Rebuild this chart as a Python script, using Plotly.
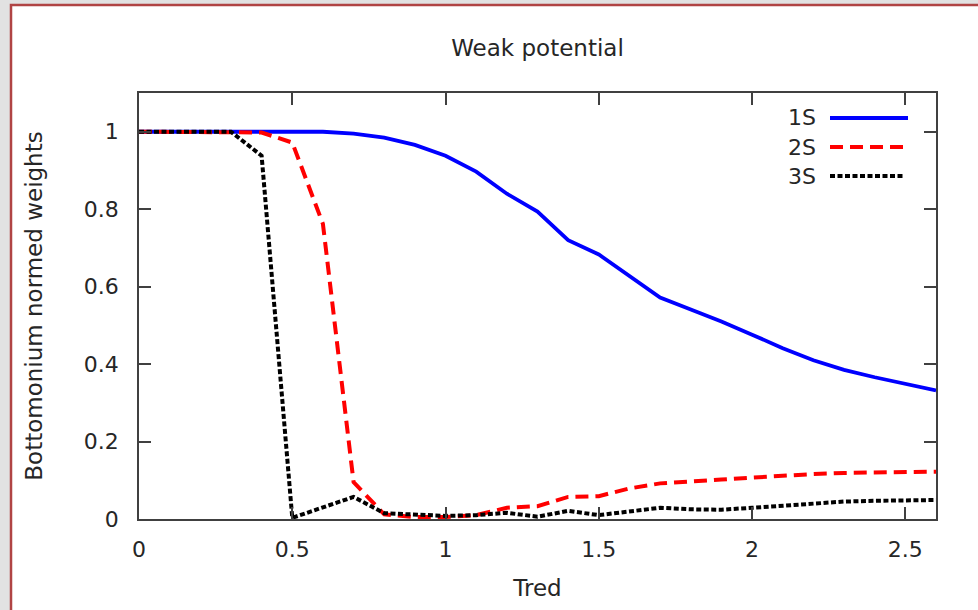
import plotly.graph_objects as go

tred = [0.0, 0.1, 0.2, 0.3, 0.4, 0.5, 0.6, 0.7, 0.8, 0.9, 1.0, 1.1, 1.2, 1.3,
        1.4, 1.5, 1.6, 1.7, 1.8, 1.9, 2.0, 2.1, 2.2, 2.3, 2.4, 2.5, 2.6]

w_1s = [1.0, 1.0, 1.0, 1.0, 1.0, 1.0, 1.0, 0.995, 0.985, 0.966, 0.938, 0.897,
        0.84, 0.794, 0.72, 0.683, 0.627, 0.572, 0.541, 0.51, 0.476, 0.441,
        0.41, 0.385, 0.366, 0.348, 0.332]

w_2s = [1.0, 1.0, 1.0, 1.0, 0.998, 0.972, 0.762, 0.095, 0.012, 0.005, 0.005,
        0.01, 0.029, 0.033, 0.057, 0.059, 0.079, 0.092, 0.098, 0.102, 0.107,
        0.112, 0.116, 0.119, 0.12, 0.121, 0.122]

w_3s = [1.0, 1.0, 1.0, 1.0, 0.938, 0.003, 0.03, 0.057, 0.015, 0.012, 0.008,
        0.01, 0.016, 0.006, 0.021, 0.01, 0.02, 0.029, 0.025, 0.024, 0.029,
        0.034, 0.04, 0.045, 0.047, 0.048, 0.049]

series_names = ["1S", "2S", "3S"]
series_colors = ["#0000ff", "#ff0000", "#000000"]
series_dash = ["solid", "13px,7px", "5px,2.5px"]
series_width = [3.8, 4, 4]

x_ticks = [0, 0.5, 1, 1.5, 2, 2.5]
x_ticktext = ["0", "0.5", "1", "1.5", "2", "2.5"]
y_ticks = [0, 0.2, 0.4, 0.6, 0.8, 1]
y_ticktext = ["0", "0.2", "0.4", "0.6", "0.8", "1"]

FONT = "DejaVu Sans"
TXT = "#262626"
BG = "#e2e2e2"

# plot area in pixels (for converting decoration positions)
L, R, T, B = 139, 936, 93, 519
W, H = 978, 610
def px(x):
    return (x - L) / (R - L)
def py(y):
    return (B - y) / (B - T)

fig = go.Figure()
for name, ys, c, d, w in zip(series_names, [w_1s, w_2s, w_3s], series_colors, series_dash, series_width):
    fig.add_trace(go.Scatter(x=tred, y=ys, mode="lines", name=name,
                             line=dict(color=c, dash=d, width=w),
                             showlegend=False))

shapes = []
# outer white panel with red border
shapes.append(dict(type="rect", xref="paper", yref="paper", layer="below",
                   x0=px(11), x1=px(1000), y0=py(640), y1=py(5),
                   fillcolor="white", line=dict(color="#b04444", width=2.5)))

# custom gnuplot-style legend (text left, sample right)
leg_y = [118, 147, 176]
leg_x1 = [908, 903, 905]
annotations = []
for name, c, d, w, yy, x1 in zip(series_names, series_colors, series_dash, series_width, leg_y, leg_x1):
    annotations.append(dict(text=name, xref="paper", yref="paper", x=px(818), y=py(yy),
                            xanchor="right", yanchor="middle", showarrow=False,
                            font=dict(family=FONT, size=22, color=TXT)))
    shapes.append(dict(type="line", xref="paper", yref="paper",
                       x0=px(830), x1=px(x1), y0=py(yy), y1=py(yy),
                       line=dict(color=c, dash=d, width=w)))

axis_common = dict(showline=True, linecolor="#404040", linewidth=1.5, mirror="ticks",
                   ticks="inside", ticklen=12, tickwidth=1.5, tickcolor="#404040",
                   showgrid=False, zeroline=False,
                   tickfont=dict(family=FONT, size=22, color=TXT))

fig.update_layout(
    width=W, height=H,
    margin=dict(l=L, r=W - R, t=T, b=H - B, autoexpand=False),
    paper_bgcolor=BG, plot_bgcolor="white",
    title=dict(text="Weak potential", x=px(537.5), xref="paper", xanchor="center",
               y=1 - 48 / H, yref="container", yanchor="middle",
               font=dict(family=FONT, size=23, color=TXT)),
    xaxis=dict(range=[0, 2.6], tickvals=x_ticks, ticktext=x_ticktext,
               ticklabelstandoff=10,
               title=dict(text="Tred", standoff=19, font=dict(family=FONT, size=23, color=TXT)),
               **axis_common),
    yaxis=dict(range=[0, 1.1], tickvals=y_ticks, ticktext=y_ticktext,
               ticklabelstandoff=14,
               title=dict(text="Bottomonium normed weights", standoff=35,
                          font=dict(family=FONT, size=23, color=TXT)),
               **axis_common),
    shapes=shapes, annotations=annotations,
)

fig.write_html("out.html", config={"displayModeBar": False},
               post_script="document.body.style.margin='0';document.body.style.background='%s';document.body.style.overflow='hidden';" % BG)
